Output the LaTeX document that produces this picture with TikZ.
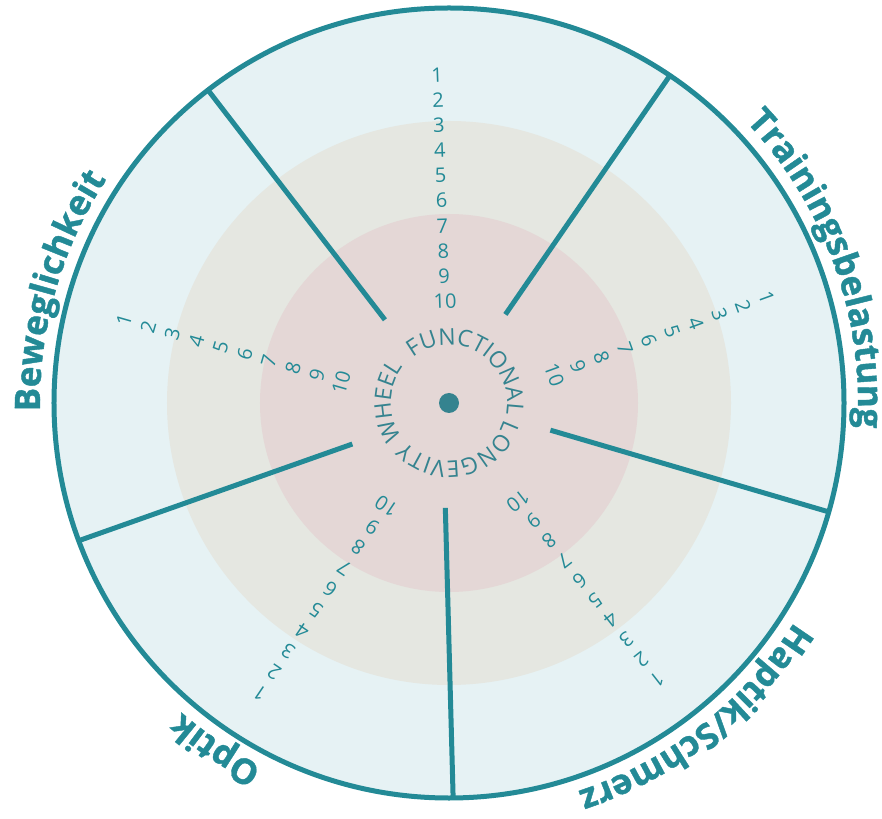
\documentclass[tikz,border=0pt]{standalone}
\usepackage{fontspec}
\setmainfont{Open Sans}
\newfontfamily\labelfont{Open Sans}[BoldFeatures={FakeBold=1.2}]
\usepackage{xcolor}
\usetikzlibrary{decorations.text}
\definecolor{wheelteal}{HTML}{238A96}
\definecolor{hubteal}{HTML}{35838F}
\definecolor{outerfill}{HTML}{E6F2F4}
\definecolor{midfill}{HTML}{E5E7E1}
\definecolor{innerfill}{HTML}{E4D7D6}
\newcommand{\wheellabel}{\labelfont\fontsize{35}{35}\selectfont\bfseries\color{wheelteal}}
\newcommand{\hubtext}{\fontsize{23}{23}\selectfont\color{hubteal}}

\begin{document}
\begin{tikzpicture}[x=1pt, y=1pt,
  spoke/.style={draw=wheelteal, line width=5pt},
  num/.style={font=\fontsize{20}{20}\selectfont, text=wheelteal, inner sep=0pt},
  curved/.style={decorate, decoration={text along path, text align=center, text={#1}}}]
\useasboundingbox (-449,-415) rectangle (433,403);
% rings
\fill[outerfill] (0,0) circle[radius=395];
\fill[midfill] (0,0) circle[radius=282];
\fill[innerfill] (0,0) circle[radius=189];
\draw[wheelteal, line width=5pt] (0,0) circle[radius=395];
\foreach \i/\o in {127.6/127.6, 57.5/56, -15/-16, -92/-89.4, 203/200.4} { \draw[spoke] (\i:105) -- (\o:395); }
% scales 1..10 per section
\foreach \s in {92,20,-52,236,164} {
  \foreach \k in {1,...,10} {
    \pgfmathsetmacro{\r}{338-(\k-1)*25.1}
    \node[num, rotate=\s-90] (n\s-\k) at ([yshift=-10pt]\s:\r) {\k};
  }
}
\node[circle, fill=hubteal, minimum size=20pt, inner sep=0pt] (hub) at (0,0) {};
% curved texts
\path[curved={|\hubtext|FUNCTIONAL LONGEVITY WHEEL}] (135:58) arc[start angle=135, end angle=-225, radius=58];
\path[curved={|\wheellabel|Trainingsbelastung}] (80:409) arc[start angle=80, end angle=-40, radius=409];
\path[curved={|\wheellabel|Haptik/Schmerz}] (8:409) arc[start angle=8, end angle=-112, radius=409];
\path[curved={|\wheellabel|Optik}] (296:409) arc[start angle=296, end angle=176, radius=409];
\path[curved={|\wheellabel|Beweglichkeit}] (224:409) arc[start angle=224, end angle=104, radius=409];
\end{tikzpicture}
\end{document}
